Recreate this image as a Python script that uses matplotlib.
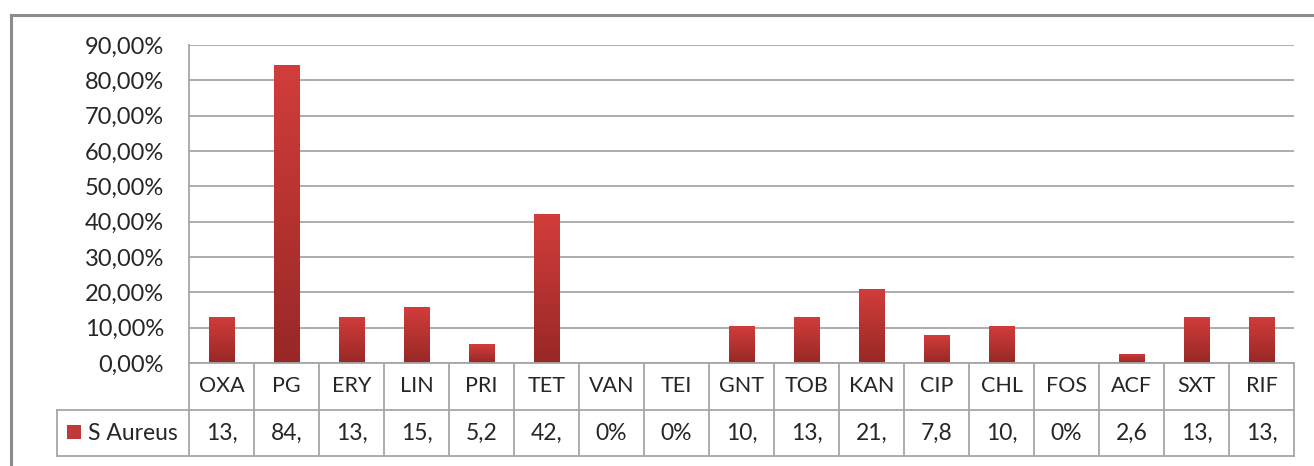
import numpy as np
import matplotlib
matplotlib.use("Agg")
import matplotlib.pyplot as plt
from matplotlib.ticker import FuncFormatter, MultipleLocator
from matplotlib.transforms import blended_transform_factory
from matplotlib.patches import Rectangle
from matplotlib.lines import Line2D
from matplotlib.colors import LinearSegmentedColormap

categories = ["OXA", "PG", "ERY", "LIN", "PRI", "TET", "VAN", "TEI", "GNT",
              "TOB", "KAN", "CIP", "CHL", "FOS", "ACF", "SXT", "RIF"]
values = [13.16, 84.21, 13.16, 15.79, 5.26, 42.11, 0.0, 0.0, 10.53,
          13.16, 21.05, 7.89, 10.53, 0.0, 2.63, 13.16, 13.16]
table_labels = ["13,", "84,", "13,", "15,", "5,2", "42,", "0%", "0%", "10,",
                "13,", "21,", "7,8", "10,", "0%", "2,6", "13,", "13,"]
series_name = "S Aureus"

FONT = "Lato"
TXT = "#262626"
GRID = "#a6a6a6"

W, H = 1314, 466
fig = plt.figure(figsize=(W / 100, H / 100), dpi=100)
fig.patch.set_facecolor("white")

def fx(px):
    return px / W

def fy(py):
    return 1 - py / H

# outer chart border (extends beyond the image on right/bottom)
fig.add_artist(Line2D([fx(11), fx(11)], [fy(15), 0], color="#8c8c8c", lw=2.2,
                      transform=fig.transFigure))
fig.add_artist(Line2D([fx(11), 1], [fy(15), fy(15)], color="#8c8c8c", lw=2.2,
                      transform=fig.transFigure))

left, right, top, bottom = 189, 1294, 45, 363
ax = fig.add_axes([fx(left), fy(bottom), fx(right - left), fy(top) - fy(bottom)])
n = len(categories)
x = np.arange(n)
ax.set_xlim(-0.5, n - 0.5)
ax.set_ylim(0, 90)
ax.yaxis.set_major_locator(MultipleLocator(10))
ax.yaxis.set_major_formatter(FuncFormatter(lambda v, p: f"{v:.2f}%".replace(".", ",")))
ax.grid(axis="y", color=GRID, lw=1.3)
ax.set_axisbelow(True)
for s in ["top", "right", "bottom"]:
    ax.spines[s].set_visible(False)
ax.spines["left"].set_color(GRID)
ax.spines["left"].set_linewidth(1.3)
ax.tick_params(axis="y", length=0, pad=18, labelsize=17, labelcolor=TXT)
ax.tick_params(axis="x", length=0, labelbottom=False)
for lab in ax.get_yticklabels():
    lab.set_fontfamily(FONT)

bars = ax.bar(x, values, width=0.39, color="#c0393a", zorder=2)
grad = np.linspace(0, 1, 256).reshape(-1, 1)
cmap = LinearSegmentedColormap.from_list("g", ["#982826", "#d23d3b"])
for b in bars:
    h = b.get_height()
    if h <= 0:
        continue
    xx, ww = b.get_x(), b.get_width()
    im = ax.imshow(grad, extent=[xx, xx + ww, 0, h], origin="lower",
                   cmap=cmap, aspect="auto", zorder=3)
    im.set_clip_path(b)

# data table below the plot
tr = blended_transform_factory(ax.transData, fig.transFigure)
row1_top, row1_bot, row2_bot = 363, 410, 456
legend_left = 57
lc = GRID
lw = 1.3
fig.add_artist(Line2D([-0.5, n - 0.5], [fy(row1_top)] * 2, transform=tr, color=lc, lw=lw))
fig.add_artist(Line2D([fx(legend_left), fx(right)], [fy(row1_bot)] * 2,
                      transform=fig.transFigure, color=lc, lw=lw))
fig.add_artist(Line2D([fx(legend_left), fx(right)], [fy(row2_bot)] * 2,
                      transform=fig.transFigure, color=lc, lw=lw))
fig.add_artist(Line2D([fx(legend_left)] * 2, [fy(row1_bot), fy(row2_bot)],
                      transform=fig.transFigure, color=lc, lw=lw))
for b in np.arange(n + 1) - 0.5:
    fig.add_artist(Line2D([b, b], [fy(row1_top), fy(row2_bot)], transform=tr, color=lc, lw=lw))

for i, (c, t) in enumerate(zip(categories, table_labels)):
    fig.text(i, fy((row1_top + row1_bot) / 2), c, transform=tr, ha="center", va="center",
             fontsize=15.5, color=TXT, family=FONT)
    fig.text(i, fy((row1_bot + row2_bot) / 2), t, transform=tr, ha="center", va="center",
             fontsize=16.5, color=TXT, family=FONT)

# legend key in the table
fig.add_artist(Rectangle((fx(67), fy(439)), fx(14), fy(425) - fy(439), transform=fig.transFigure,
                         facecolor="#c0393a", edgecolor="none"))
fig.text(fx(88), fy((row1_bot + row2_bot) / 2), series_name, ha="left", va="center",
         fontsize=16.5, color=TXT, family=FONT)

fig.savefig("out.png", dpi=100, facecolor="white")
